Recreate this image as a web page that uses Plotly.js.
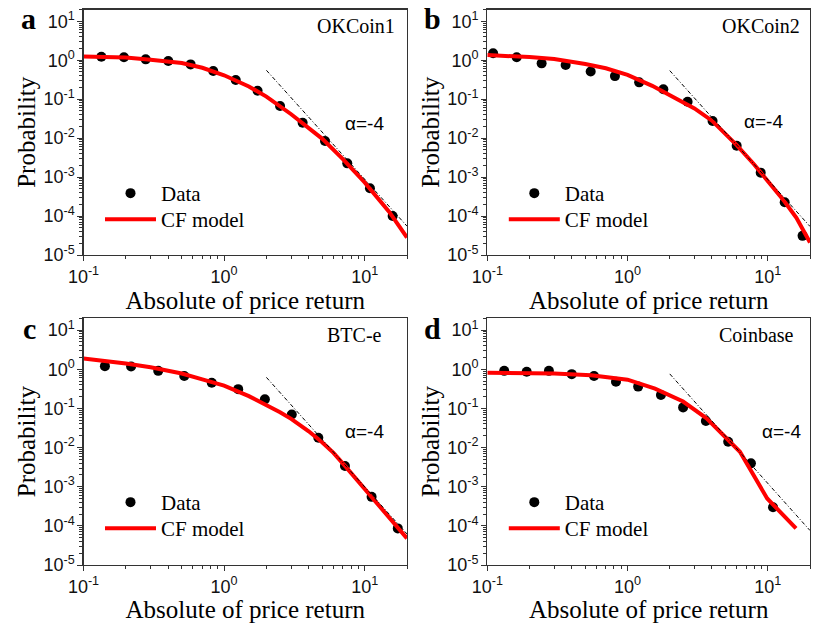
<!DOCTYPE html>
<html>
<head>
<meta charset="utf-8">
<script src="https://cdn.plot.ly/plotly-3.0.1.min.js"></script>
<style>html,body{margin:0;padding:0;background:#fff;}#chart{width:830px;height:623px;}</style>
</head>
<body>
<div id="chart"></div>
<script>
// ---- Data ----
const panelLabels = ['a', 'b', 'c', 'd'];
const exchangeNames = ['OKCoin1', 'OKCoin2', 'BTC-e', 'Coinbase'];
const slopeLabel = 'α=-4';
const legendNames = ['Data', 'CF model'];

// a: OKCoin1
const dataXA = [0.134, 0.194, 0.277, 0.401, 0.578, 0.837, 1.21, 1.73, 2.50, 3.62, 5.22, 7.52, 10.9, 15.8];
const dataYA = [1.23, 1.19, 1.05, 0.95, 0.78, 0.53, 0.31, 0.165, 0.067, 0.0248, 0.0084, 0.00225, 5.15e-4, 1.0e-4];
const fitXA = [0.1, 0.15, 0.2, 0.3, 0.4, 0.5, 0.7, 1, 1.5, 2, 3, 4, 5, 7, 10, 15, 20];
const fitYA = [1.25, 1.22, 1.17, 1.03, 0.95, 0.85, 0.64, 0.41, 0.212, 0.116, 0.041, 0.0185, 0.0096, 0.0029, 7.3e-4, 1.26e-4, 2.8e-5];

// b: OKCoin2
const dataXB = [0.110, 0.162, 0.244, 0.362, 0.546, 0.813, 1.21, 1.80, 2.68, 4.04, 6.0, 8.9, 13.2, 17.7];
const dataYB = [1.50, 1.19, 0.83, 0.75, 0.51, 0.39, 0.27, 0.18, 0.086, 0.0275, 0.0064, 0.0013, 2.25e-4, 3.1e-5];
const fitXB = [0.1, 0.15, 0.2, 0.3, 0.4, 0.5, 0.7, 1, 1.5, 2, 3, 4, 5, 6, 8, 10, 13, 16, 20];
const fitYB = [1.36, 1.28, 1.2, 1.07, 0.93, 0.8, 0.62, 0.42, 0.22, 0.128, 0.058, 0.028, 0.013, 0.0066, 0.0021, 8e-4, 2.5e-4, 9e-5, 2.1e-5];

// c: BTC-e
const dataXC = [0.142, 0.218, 0.340, 0.521, 0.817, 1.26, 1.95, 3.03, 4.68, 7.24, 11.2, 17.2];
const dataYC = [1.20, 1.18, 0.91, 0.67, 0.45, 0.31, 0.17, 0.070, 0.0178, 0.00337, 5.5e-4, 8.6e-5];
const fitXC = [0.1, 0.15, 0.2, 0.3, 0.4, 0.5, 0.7, 1, 1.5, 2, 2.5, 3, 4, 5, 6, 7.24, 10, 15, 20];
const fitYC = [1.89, 1.62, 1.41, 1.12, 0.93, 0.78, 0.55, 0.38, 0.205, 0.122, 0.08, 0.054, 0.026, 0.0135, 0.0073, 0.0034, 8.8e-4, 1.6e-4, 4.8e-5];

// d: Coinbase
const dataXD = [0.132, 0.191, 0.275, 0.400, 0.577, 0.827, 1.19, 1.73, 2.49, 3.62, 5.22, 7.58, 10.9];
const dataYD = [0.91, 0.86, 0.91, 0.75, 0.67, 0.48, 0.36, 0.22, 0.106, 0.0475, 0.0141, 0.00395, 2.98e-4];
const fitXD = [0.1, 0.3, 0.55, 1.0, 1.57, 2.49, 3.66, 5.22, 6.33, 9.9, 15.9];
const fitYD = [0.81, 0.78, 0.7, 0.54, 0.32, 0.15, 0.056, 0.0156, 0.0078, 5.0e-4, 8.6e-5];

// alpha = -4 guide lines (end points)
const guideX = [2, 20];
const guideYA = [0.55, 5.5e-5];
const guideYB = [0.54, 5.4e-5];
const guideYC = [0.62, 6.2e-5];
const guideYD = [0.76, 7.6e-5];

// tick labels
const xTickVals = [0.1, 1, 10];
const xTickText = ['10<sup>-1</sup>', '10<sup>0</sup>', '10<sup>1</sup>'];
const yTickVals = [1e-5, 1e-4, 1e-3, 1e-2, 1e-1, 1, 10];
const yTickText = ['10<sup>-5</sup>', '10<sup>-4</sup>', '10<sup>-3</sup>', '10<sup>-2</sup>', '10<sup>-1</sup>', '10<sup>0</sup>', '10<sup>1</sup>'];
const xAxisTitle = 'Absolute of price return';
const yAxisTitle = 'Probability';

// ---- build ----
const W = 830, H = 623;
const px = v => v / W;
const py = v => 1 - v / H;

function minorVals(lo, hi) {
  const out = [];
  for (let e = lo; e <= hi; e++) for (let m = 2; m <= 9; m++) out.push(m * Math.pow(10, e));
  return out;
}
const xMinor = minorVals(-1, 1);
const yMinor = minorVals(-5, 1);

const SERIF = 'Liberation Serif, Times New Roman, serif';
const SANS = 'Liberation Sans, Arial, sans-serif';

const panels = [
  {dx: dataXA, dy: dataYA, fx: fitXA, fy: fitYA, gy: guideYA},
  {dx: dataXB, dy: dataYB, fx: fitXB, fy: fitYB, gy: guideYB},
  {dx: dataXC, dy: dataYC, fx: fitXC, fy: fitYC, gy: guideYC},
  {dx: dataXD, dy: dataYD, fx: fitXD, fy: fitYD, gy: guideYD}
];

const xDomains = [[83.5, 407], [487.3, 810]];
const yDomains = [[9.5, 255], [318.3, 565]];

const traces = [];
const layout = {
  width: W, height: H,
  margin: {l: 0, r: 0, t: 0, b: 0},
  paper_bgcolor: '#fff', plot_bgcolor: '#fff',
  showlegend: true,
  annotations: []
};

panels.forEach((p, i) => {
  const col = i % 2, row = Math.floor(i / 2);
  const n = i === 0 ? '' : String(i + 1);
  const xa = 'x' + n, ya = 'y' + n;
  const legData = 'legend' + (i === 0 ? '' : String(2 * i + 1));
  const legFit = 'legend' + String(2 * i + 2);

  traces.push({
    x: p.dx, y: p.dy, xaxis: xa, yaxis: ya, type: 'scatter', mode: 'markers',
    name: legendNames[0], legend: legData,
    marker: {color: '#000', size: 10, symbol: 'circle'}
  });
  traces.push({
    x: p.fx, y: p.fy, xaxis: xa, yaxis: ya, type: 'scatter', mode: 'lines',
    name: legendNames[1], legend: legFit,
    line: {color: '#ff0000', width: 4}
  });
  traces.push({
    x: guideX, y: p.gy, xaxis: xa, yaxis: ya, type: 'scatter', mode: 'lines',
    showlegend: false, hoverinfo: 'skip',
    line: {color: '#000', width: 1, dash: '4px,2px,1px,2px'}
  });

  const xd = xDomains[col], yd = yDomains[row];
  const common = {
    type: 'log', showline: true, linecolor: '#333', linewidth: 1.2, mirror: true,
    ticks: 'outside', ticklen: 5, tickwidth: 1, tickcolor: '#333',
    showgrid: false, zeroline: false,
    tickfont: {family: SANS, size: 18, color: '#111'},
    tickmode: 'array'
  };
  layout['xaxis' + n] = Object.assign({}, common, {
    domain: [px(xd[0]), px(xd[1])], anchor: ya,
    range: [-1, Math.log10(20)],
    tickvals: xTickVals, ticktext: xTickText, ticklabelstandoff: 0,
    minor: {tickmode: 'array', tickvals: xMinor, ticks: 'outside', ticklen: 3, tickcolor: '#333', showgrid: false},
    title: {text: xAxisTitle, font: {family: SERIF, size: 25, color: '#000'}, standoff: 0}
  });
  layout['yaxis' + n] = Object.assign({}, common, {
    domain: [py(yd[1]), py(yd[0])], anchor: xa,
    range: [-5, Math.log10(20)],
    tickvals: yTickVals, ticktext: yTickText, ticklabelstandoff: -1,
    minor: {tickmode: 'array', tickvals: yMinor, ticks: 'outside', ticklen: 3, tickcolor: '#333', showgrid: false},
    title: {text: yAxisTitle, font: {family: SERIF, size: 25, color: '#000'}, standoff: 0}
  });

  const offX = col === 0 ? 0 : 403.8;
  const offY = row === 0 ? 0 : 309;
  const legCommon = {
    xanchor: 'left', yanchor: 'top',
    bgcolor: 'rgba(0,0,0,0)', borderwidth: 0, itemwidth: 51,
    font: {family: SERIF, size: 21, color: '#000'}
  };
  layout[legData] = Object.assign({}, legCommon, {x: px(100 + offX), y: py(173 + offY)});
  layout[legFit] = Object.assign({}, legCommon, {x: px(100 + offX), y: py(199 + offY)});
});

// panel letters / names / slope labels
const letterPos = [[28, 18], [432, 18], [29, 328], [432, 328]];
const namePos = [[397, 26], [802, 26], [384, 335], [796, 335]];
const alphaPos = [[342.7, 123.5], [741.7, 121.5], [343, 431.5], [760, 431.5]];
panelLabels.forEach((t, i) => {
  layout.annotations.push({
    xref: 'paper', yref: 'paper', x: px(letterPos[i][0]), y: py(letterPos[i][1]),
    xanchor: 'center', yanchor: 'middle', showarrow: false,
    text: '<b>' + t + '</b>', font: {family: SERIF, size: 30, color: '#000'}
  });
  layout.annotations.push({
    xref: 'paper', yref: 'paper', x: px(namePos[i][0]), y: py(namePos[i][1]),
    xanchor: 'right', yanchor: 'middle', showarrow: false,
    text: exchangeNames[i], font: {family: SERIF, size: 20, color: '#000'}
  });
  layout.annotations.push({
    xref: 'paper', yref: 'paper', x: px(alphaPos[i][0]), y: py(alphaPos[i][1]),
    xanchor: 'left', yanchor: 'middle', showarrow: false,
    text: slopeLabel, font: {family: SANS, size: 19, color: '#000'}
  });
});

Plotly.newPlot('chart', traces, layout, {staticPlot: true, displayModeBar: false});
</script>
</body>
</html>
